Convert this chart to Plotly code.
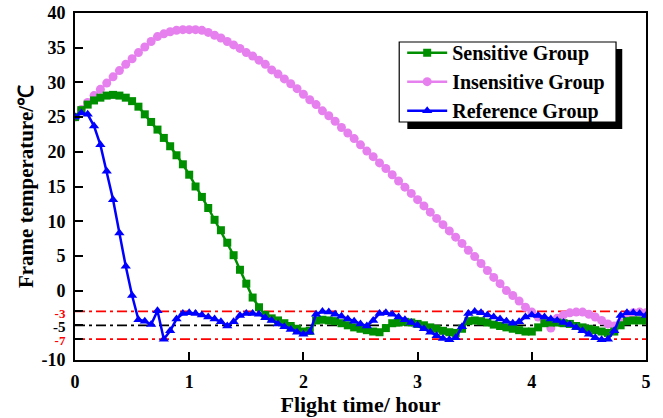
import plotly.graph_objects as go

# Flight time grid (hours), one sample every 200 s
n_samples = 91
flight_time = [i * 5 / 90 for i in range(n_samples)]

sensitive = [
    25.0, 26.0, 26.8, 27.4, 27.8, 28.1, 28.2, 28.1, 27.8, 27.3,
    26.5, 25.4, 24.3, 23.2, 22.0, 20.8, 19.5, 18.2, 16.7, 15.0,
    13.5, 11.9, 10.2, 8.7, 6.9, 5.1, 3.0, 1.0, -1.0, -2.4,
    -3.5, -4.0, -4.3, -4.7, -5.1, -5.5, -5.9, -5.8, -4.3, -4.2,
    -4.3, -4.4, -4.7, -5.0, -5.3, -5.5, -5.7, -5.9, -6.0, -5.4,
    -4.7, -4.6, -4.5, -4.6, -4.8, -5.0, -5.3, -5.5, -5.8, -6.0,
    -6.1, -5.5, -4.4, -4.3, -4.4, -4.6, -4.9, -5.1, -5.3, -5.5,
    -5.7, -5.9, -5.9, -5.3, -4.7, -4.6, -4.6, -4.7, -4.8, -5.1,
    -5.3, -5.5, -5.7, -5.9, -6.1, -5.9, -5.0, -4.4, -4.3, -4.3,
    -4.3,
]

insensitive = [
    25.0, 26.1, 27.1, 28.1, 29.0, 29.9, 30.8, 31.7, 32.6, 33.4,
    34.3, 35.1, 35.9, 36.6, 37.0, 37.3, 37.5, 37.6, 37.6, 37.6,
    37.5, 37.2, 36.8, 36.4, 35.9, 35.4, 34.9, 34.3, 33.8, 33.2,
    32.6, 31.8, 31.2, 30.5, 29.8, 29.1, 28.3, 27.5, 26.8, 25.9,
    25.2, 24.4, 23.5, 22.7, 21.9, 21.0, 20.1, 19.3, 18.4, 17.6,
    16.7, 15.8, 14.9, 14.0, 13.1, 12.2, 11.3, 10.4, 9.5, 8.6,
    7.7, 6.8, 5.8, 4.9, 3.9, 2.9, 1.9, 1.0, 0.0, -0.7,
    -1.5, -2.4, -3.1, -3.8, -4.4, -5.4, -4.0, -3.5, -3.2, -3.1,
    -3.1, -3.4, -3.8, -4.3, -4.8, -5.1, -4.6, -3.7, -3.2, -3.1,
    -3.2,
]

reference = [
    25.0, 25.6, 25.4, 23.7, 21.0, 17.2, 13.1, 8.3, 3.5, -0.7,
    -4.2, -4.4, -4.9, -2.9, -7.0, -5.8, -4.1, -3.3, -3.2, -3.3,
    -3.5, -3.8, -4.1, -4.5, -5.1, -4.5, -3.6, -3.3, -3.3, -3.4,
    -3.9, -4.3, -4.8, -5.2, -5.6, -6.0, -6.3, -6.0, -3.4, -3.0,
    -3.1, -3.4, -3.7, -4.1, -4.4, -4.8, -5.1, -4.3, -3.3, -3.2,
    -3.4, -3.8, -4.2, -4.6, -5.0, -5.5, -6.0, -6.5, -6.9, -7.1,
    -6.8, -5.2, -3.3, -3.0, -3.2, -3.5, -3.8, -4.1, -4.4, -4.7,
    -4.5, -3.8, -3.5, -3.6, -3.8, -4.1, -4.3, -4.6, -4.9, -5.3,
    -5.8, -6.3, -6.8, -7.1, -7.0, -5.8, -3.6, -3.2, -3.2, -3.3,
    -3.6,
]

# Target band: upper / set point / lower limits
limit_levels = [-3, -5, -7]
limit_colors = ["#FF0000", "#000000", "#FF0000"]
time_span = [0, 5]

y_tickvals = [40, 35, 30, 25, 20, 15, 10, 5, 0, -3, -5, -7, -10]
y_ticktext = ["40", "35", "30", "25", "20", "15", "10", "5", "0",
              '<span style="color:#FF0000;font-size:13px">-3</span>',
              '<span style="font-size:15px">-5</span>',
              '<span style="color:#FF0000;font-size:13px">-7</span>',
              "-10"]
x_tickvals = [0, 1, 2, 3, 4, 5]

FONT = "Liberation Serif"

fig = go.Figure()

for level, color in zip(limit_levels, limit_colors):
    fig.add_trace(go.Scatter(
        x=time_span, y=[level, level], mode="lines",
        line=dict(color=color, width=1.8, dash="10px,4px,3px,4px"),
        showlegend=False, hoverinfo="skip",
    ))

fig.add_trace(go.Scatter(
    x=flight_time, y=insensitive, name="Insensitive Group", legendrank=2,
    mode="lines+markers",
    line=dict(color="#E680EE", width=2.5),
    marker=dict(symbol="circle", size=9, color="#E680EE"),
))
fig.add_trace(go.Scatter(
    x=flight_time, y=sensitive, name="Sensitive Group", legendrank=1,
    mode="lines+markers",
    line=dict(color="#008F00", width=2.5),
    marker=dict(symbol="square", size=8, color="#008F00"),
))
fig.add_trace(go.Scatter(
    x=flight_time, y=reference, name="Reference Group", legendrank=3,
    mode="lines+markers",
    line=dict(color="#0000FF", width=2.5),
    marker=dict(symbol="triangle-up", size=9, color="#0000FF"),
))

# Legend frame with a drop shadow
fig.add_shape(type="rect", xref="paper", yref="paper",
              x0=0.582, x1=0.9584, y0=0.6657, y1=0.8963,
              fillcolor="black", line=dict(width=0), layer="above")
fig.add_shape(type="rect", xref="paper", yref="paper",
              x0=0.5678, x1=0.9475, y0=0.6859, y1=0.9164,
              fillcolor="white", line=dict(color="black", width=1.2),
              layer="above")

fig.update_layout(
    width=663, height=418,
    margin=dict(l=75, r=17, t=13, b=58, autoexpand=False),
    paper_bgcolor="white", plot_bgcolor="white",
    font=dict(family=FONT, color="black"),
    showlegend=True,
    legend=dict(
        x=0.573, y=0.942, xanchor="left", yanchor="top",
        bgcolor="rgba(0,0,0,0)", borderwidth=0,
        font=dict(family=FONT, size=20, color="black", weight="bold"),
        itemwidth=40, tracegroupgap=0,
    ),
    xaxis=dict(
        range=[0, 5], tickvals=x_tickvals, automargin=False,
        ticks="inside", ticklen=8, tickwidth=1.5, tickcolor="black",
        showline=True, linecolor="black", linewidth=2, mirror=True,
        showgrid=False, zeroline=False, ticklabelstandoff=4,
        tickfont=dict(family=FONT, size=18, weight="bold"),
        title=dict(text="Flight time/ hour", standoff=5,
                   font=dict(family=FONT, size=22, weight="bold")),
    ),
    yaxis=dict(
        range=[-10, 40], tickvals=y_tickvals, ticktext=y_ticktext,
        automargin=False,
        ticks="inside", ticklen=8, tickwidth=1.5, tickcolor="black",
        showline=True, linecolor="black", linewidth=2, mirror=True,
        showgrid=False, zeroline=False, ticklabelstandoff=4,
        tickfont=dict(family=FONT, size=18, weight="bold"),
        title=dict(text="Frame temperature/℃", standoff=2,
                   font=dict(family=FONT, size=21, weight="bold")),
    ),
)

fig.write_html("out.html")
